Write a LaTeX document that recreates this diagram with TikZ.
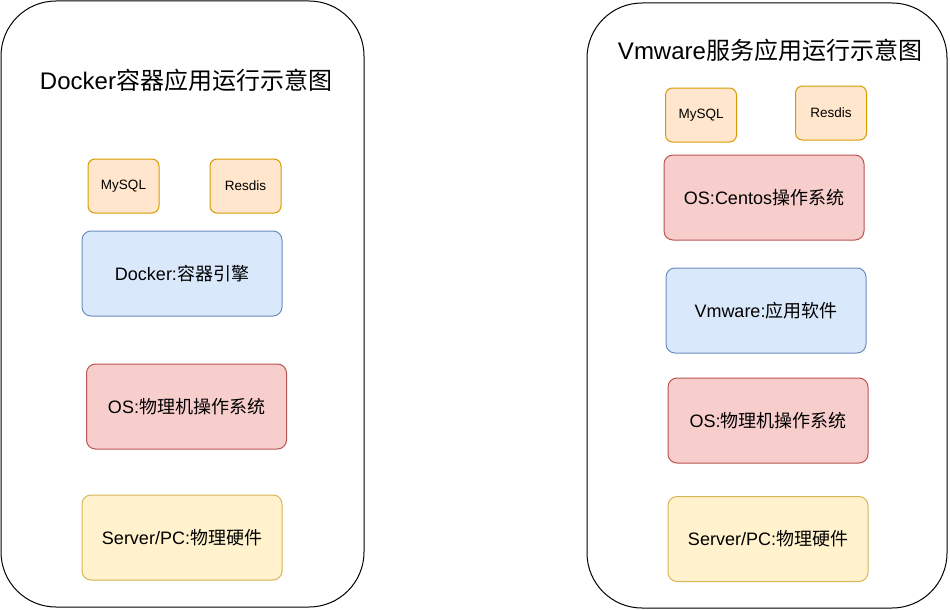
\documentclass[tikz,border=0pt]{standalone}
\usepackage{fontspec}
\setmainfont{Liberation Sans}
\newfontfamily\cjk{Noto Sans CJK SC}
\definecolor{appfill}{HTML}{FFE6CC}
\definecolor{appline}{HTML}{D79B00}
\definecolor{engfill}{HTML}{DAE8FC}
\definecolor{engline}{HTML}{6C8EBF}
\definecolor{osfill}{HTML}{F8CECC}
\definecolor{osline}{HTML}{B85450}
\definecolor{hwfill}{HTML}{FFF2CC}
\definecolor{hwline}{HTML}{D6B656}

\begin{document}
\begin{tikzpicture}[x=1pt, y=-1pt,
   frame/.style={draw=black, line width=1pt, rounded corners=55pt},
   title/.style={font=\fontsize{24}{28}\selectfont},
   layer/.style={rounded corners=9pt, line width=1pt, minimum width=200pt,
      minimum height=85pt, inner sep=0pt, font=\fontsize{18}{22}\selectfont},
   app/.style={draw=appline, fill=appfill, rounded corners=7pt, line width=1pt,
      minimum width=71pt, minimum height=54pt, inner sep=0pt,
      font=\fontsize{13.5}{16}\selectfont},
   engine/.style={layer, draw=engline, fill=engfill},
   os/.style={layer, draw=osline, fill=osfill},
   hw/.style={layer, draw=hwline, fill=hwfill}]
   \useasboundingbox (0,0) rectangle (950,610);
   % Docker side
   \draw[frame] (1,1) rectangle (364,607);
   \node[title] (dtitle) at (186,80) {Docker\cjk{容器应用运行示意图}};
   \node[app] (dmysql) at (123.5,186) {MySQL};
   \node[app] (dresdis) at (245.5,186) {Resdis};
   \node[engine] (dengine) at (182,273.5) {Docker:\cjk{容器引擎}};
   \node[os] (dos) at (186.5,406.5) {OS:\cjk{物理机操作系统}};
   \node[hw] (dhw) at (182,537.5) {Server/PC:\cjk{物理硬件}};
   % Vmware side
   \draw[frame] (587,3) rectangle (947,608);
   \node[title] (vtitle) at (770,50) {Vmware\cjk{服务应用运行示意图}};
   \node[app] (vmysql) at (701,115) {MySQL};
   \node[app] (vresdis) at (831,113) {Resdis};
   \node[os] (vguest) at (764,197.5) {OS:Centos\cjk{操作系统}};
   \node[engine] (vsoft) at (766,310.5) {Vmware:\cjk{应用软件}};
   \node[os] (vos) at (768,420.5) {OS:\cjk{物理机操作系统}};
   \node[hw] (vhw) at (768,539) {Server/PC:\cjk{物理硬件}};
\end{tikzpicture}
\end{document}
